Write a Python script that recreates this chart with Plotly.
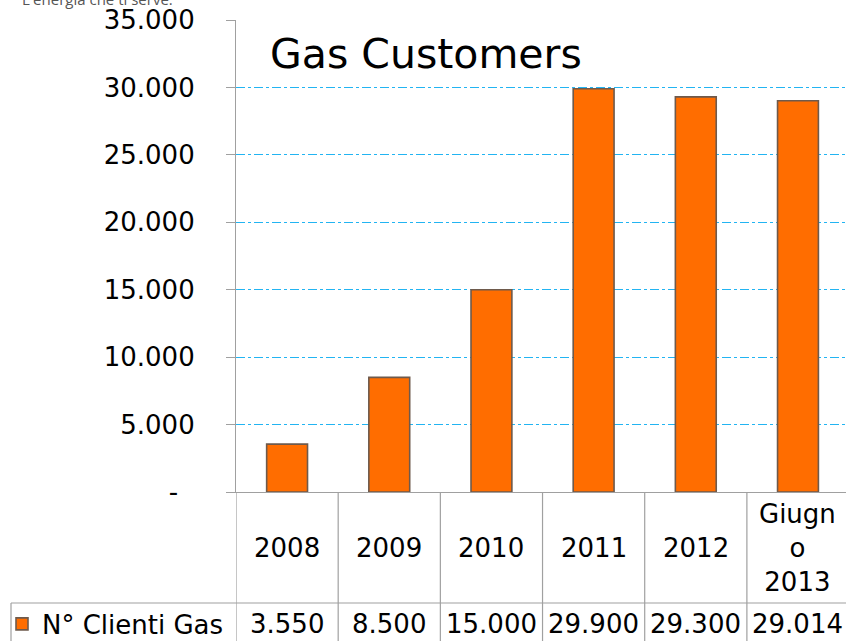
import plotly.graph_objects as go

categories = ["2008", "2009", "2010", "2011", "2012", "Giugno 2013"]
header_labels = ["2008", "2009", "2010", "2011", "2012", "Giugn<br>o<br>2013"]
values = [3550, 8500, 15000, 29900, 29300, 29014]
value_labels = ["3.550", "8.500", "15.000", "29.900", "29.300", "29.014"]
series_name = "N° Clienti Gas"
tick_vals = [0, 5000, 10000, 15000, 20000, 25000, 30000, 35000]
tick_text = ["-\u00a0\u00a0", "5.000", "10.000", "15.000", "20.000", "25.000", "30.000", "35.000"]

W, H = 846, 641
L, R, T, B = 236, 0, 20, 149
PW, PH = W - L - R, H - T - B

def px_x(p):
    return (p - L) / PW

def px_y(p):
    return (H - B - p) / PH

FONT = "DejaVu Sans"
GRID = "#a0a0a0"

fig = go.Figure()
fig.add_trace(go.Bar(
    x=list(range(len(categories))), y=values, name=series_name,
    marker=dict(color="#FF6D00", line=dict(color="#6e5a4c", width=1.6)),
    showlegend=True, hoverinfo="skip",
))

shapes = []
for k in range(len(categories) + 1):
    shapes.append(dict(type="line", xref="x", yref="paper", x0=k - 0.5, x1=k - 0.5,
                       y0=0, y1=px_y(H + 5), line=dict(color=GRID, width=1.2)))
shapes.append(dict(type="line", xref="paper", yref="paper", x0=px_x(11), x1=1.05,
                   y0=px_y(603), y1=px_y(603), line=dict(color=GRID, width=1.2)))
shapes.append(dict(type="line", xref="paper", yref="paper", x0=px_x(11), x1=px_x(11),
                   y0=px_y(603), y1=px_y(H + 5), line=dict(color=GRID, width=1.2)))

annotations = []
for i, lab in enumerate(header_labels):
    annotations.append(dict(x=i, xref="x", y=px_y(548), yref="paper", text=lab,
                            showarrow=False, yanchor="middle", xanchor="center",
                            font=dict(family=FONT, size=26, color="#000")))
for i, lab in enumerate(value_labels):
    annotations.append(dict(x=i, xref="x", y=px_y(624), yref="paper", text=lab,
                            showarrow=False, yanchor="middle", xanchor="center",
                            font=dict(family=FONT, size=26, color="#000")))
annotations.append(dict(x=px_x(20), xref="paper", y=px_y(-1), yref="paper",
                        text="L'energia che ti serve.", showarrow=False,
                        xanchor="left", yanchor="middle",
                        font=dict(family="Open Sans", size=15, color="#555")))

fig.update_layout(
    width=W, height=H, autosize=False,
    margin=dict(l=L, r=R, t=T, b=B, pad=0, autoexpand=False),
    paper_bgcolor="white", plot_bgcolor="white",
    hovermode=False,
    title=dict(text="Gas Customers", x=270 / W, xanchor="left", y=1 - 54 / H,
               yanchor="middle", font=dict(family=FONT, size=41, color="#000")),
    bargap=0.6,
    xaxis=dict(range=[-0.5, 5.47], showticklabels=False, showgrid=False,
               showline=True, linecolor=GRID, linewidth=1.2, ticks="", zeroline=False,
               fixedrange=True),
    yaxis=dict(range=[0, 35000], tickvals=tick_vals, ticktext=tick_text,
               showgrid=True, gridcolor="#22B4F2", griddash="dashdot", gridwidth=1.3,
               showline=True, linecolor=GRID, linewidth=1.2, ticks="outside",
               ticklen=9, tickcolor=GRID, zeroline=False, ticklabelstandoff=26,
               tickfont=dict(family=FONT, size=26, color="#000")),
    legend=dict(x=px_x(2), xanchor="left", y=px_y(624), yanchor="middle",
                font=dict(family=FONT, size=26, color="#000"),
                bgcolor="rgba(0,0,0,0)", borderwidth=0),
    shapes=shapes, annotations=annotations,
)

fig.write_html("out.html", config={"displayModeBar": False},
               post_script="document.body.style.margin='0';document.body.style.padding='0';document.body.style.overflow='hidden';")
